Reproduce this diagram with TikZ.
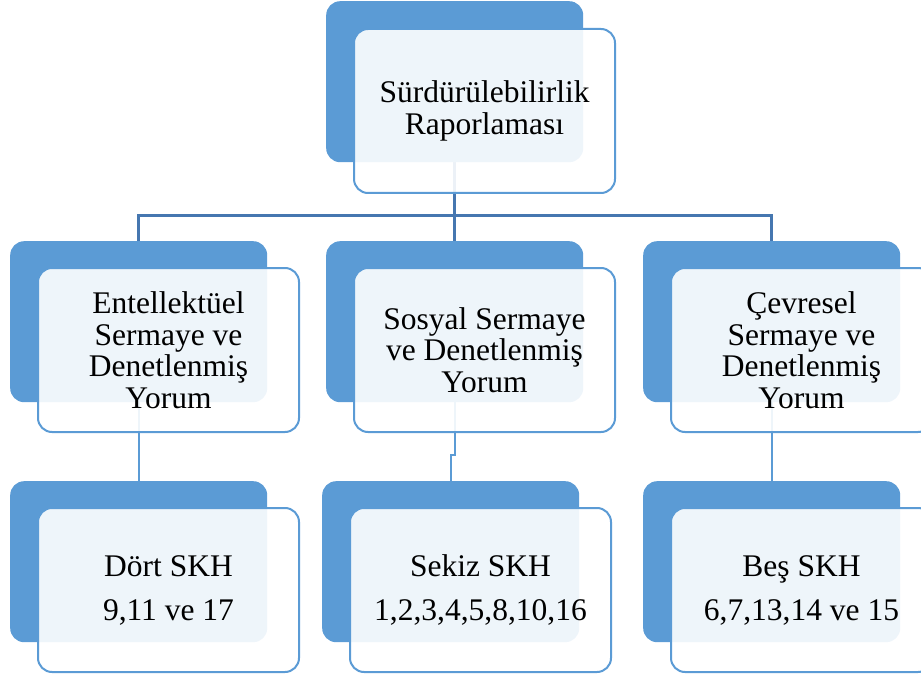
\documentclass[tikz,border=0pt]{standalone}
\usepackage{fontspec}
\setmainfont{Liberation Serif}
\usetikzlibrary{backgrounds,calc}
\definecolor{accent}{HTML}{5B9BD5}
\definecolor{linkdark}{HTML}{4677B0}
\tikzset{
  backbox/.style={draw=none, fill=accent, rounded corners=14pt,
    minimum width=257pt, minimum height=161pt, anchor=north west, inner sep=0pt},
  frontbox/.style={draw=accent, line width=2pt, fill=white, fill opacity=0.9,
    text opacity=1, rounded corners=14pt, minimum width=261pt, minimum height=164pt,
    anchor=north west, align=center, inner sep=0pt,
    font=\fontsize{31.5}{31.5}\selectfont},
  leafbox/.style={frontbox, font=\fontsize{31.5}{44}\selectfont},
  toplink/.style={draw=linkdark, line width=2.5pt},
  sublink/.style={draw=accent, line width=2pt},
}
\begin{document}
\begin{tikzpicture}[x=1pt, y=-1pt]
\useasboundingbox (0,0) rectangle (921,679);
\clip (0,0) rectangle (921,679);

% back panels
\node[backbox] (topB) at (326,1) {};
\node[backbox] (lB) at (10,241) {};
\node[backbox] (mB) at (326,241) {};
\node[backbox] (rB) at (643,241) {};
\node[backbox] (llB) at (10,481) {};
\node[backbox] (mmB) at (322,481) {};
\node[backbox] (rrB) at (643,481) {};

% front panels with the labels
\node[frontbox] (topF) at (353,28) {Sürdürülebilirlik\\Raporlaması};
\node[frontbox] (lF) at (37,267) {Entellektüel\\Sermaye ve\\Denetlenmiş\\Yorum};
\node[frontbox] (mF) at (353,267) {Sosyal Sermaye\\ve Denetlenmiş\\Yorum};
\node[frontbox] (rF) at (670,267) {Çevresel\\Sermaye ve\\Denetlenmiş\\Yorum};
\node[leafbox] (llF) at (37,507) {Dört SKH\\9,11 ve 17};
\node[leafbox] (mmF) at (349,507) {Sekiz SKH\\1,2,3,4,5,8,10,16};
\node[leafbox] (rrF) at (670,507) {Beş SKH\\6,7,13,14 ve 15};

% connectors, kept behind the panels
\begin{scope}[on background layer]
  \coordinate (hub) at ($(topB.south)+(0,53)$);
  \draw[toplink] (topB.south) -- (hub);
  \draw[toplink] (lB.north) |- (hub) -| (rB.north);
  \draw[toplink] (hub) -- (mB.north);
  \draw[sublink] (lB.south) -- (llB.north);
  \draw[sublink] (mB.south) -- ++(0,53) -| (mmB.north);
  \draw[sublink] (rB.south) -- (rrB.north);
\end{scope}
\end{tikzpicture}
\end{document}
